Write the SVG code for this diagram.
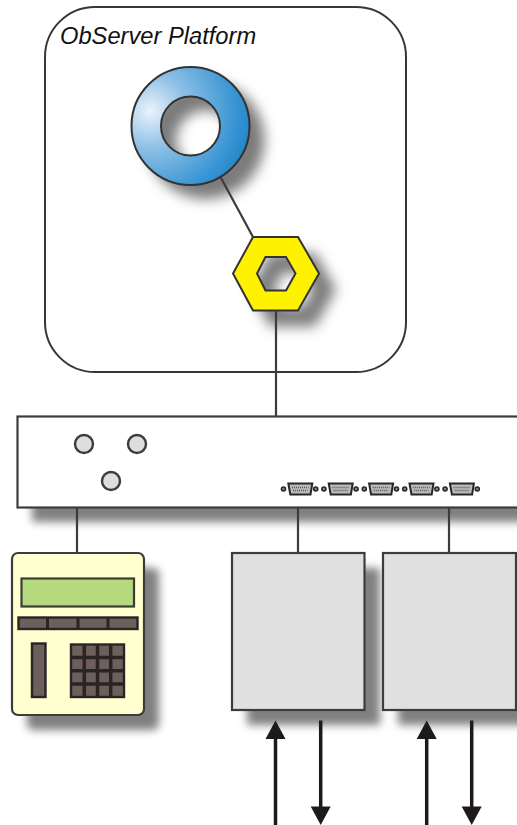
<svg xmlns="http://www.w3.org/2000/svg" width="517" height="825" viewBox="0 0 517 825">
<style>
.sh{fill:#808080;filter:url(#blur)}
.shs{fill:#7a7a7a;filter:url(#blurSoft)}
.edge{stroke:#3f3b3b;stroke-width:2.2;fill:none}
.knob{fill:#dedede;stroke:#3f3b3b;stroke-width:2.4}
.dk{fill:#6d5f5c;stroke:#2a2424;stroke-width:2.4}
.arw{stroke:#1e1a1a;stroke-width:3.5;fill:none}
.hd{fill:#1e1a1a}
.lbl{font-family:"Liberation Sans",Arial,sans-serif;font-style:italic;font-size:23.7px;fill:#111}
</style>
<defs>
<filter id="blur" x="-30%" y="-30%" width="160%" height="160%"><feGaussianBlur stdDeviation="4.500"/></filter>
<filter id="blurSoft" x="-40%" y="-40%" width="180%" height="180%"><feGaussianBlur stdDeviation="6.500"/></filter>
<radialGradient id="ringFill" gradientUnits="userSpaceOnUse" cx="150" cy="111" r="105">
<stop offset="0" stop-color="#eaf3fb"/><stop offset="0.35" stop-color="#8fc0e6"/><stop offset="0.8" stop-color="#3a96d4"/><stop offset="1" stop-color="#2084c8"/>
</radialGradient>
<g id="dsub">
<circle cx="2.500" cy="0" r="2" fill="#888" stroke="#2a2626" stroke-width="1.600"/>
<path d="M7.300 -5.500H31.300L29.500 5.500H9.300Z" fill="#bbb" stroke="#2a2626" stroke-width="2"/>
<path d="M11 -1.500H27.500M12 1.500H26.500" stroke="#555" stroke-width="1.500" stroke-dasharray="1 1" fill="none"/>
<circle cx="34.700" cy="0" r="2" fill="#888" stroke="#2a2626" stroke-width="1.600"/>
</g>
</defs>
<rect width="517" height="825" fill="#fff"/>

<g id="platform">
<rect x="45" y="7" width="361" height="365" rx="50" ry="50" fill="#fff" stroke="#3a3636" stroke-width="2"/>
<text class="lbl" x="60" y="44">ObServer Platform</text>
</g>

<g id="ring">
<path class="shs" fill-rule="evenodd" transform="translate(15 14)" d="M131.500 126a59 59 0 1 0 118 0a59 59 0 1 0 -118 0ZM161 126a29.500 29.500 0 1 0 59 0a29.500 29.500 0 1 0 -59 0Z"/>
<path fill="url(#ringFill)" stroke="#333" stroke-width="2" fill-rule="evenodd" d="M131.500 126a59 59 0 1 0 118 0a59 59 0 1 0 -118 0ZM161 126a29.500 29.500 0 1 0 59 0a29.500 29.500 0 1 0 -59 0Z"/>
</g>

<g id="hexnut">
<path class="shs" fill-rule="evenodd" transform="translate(17 16)" d="M253 237H298L319 273.500L298 310.500H253L233 273.500ZM265.500 257L257 273.500L265.500 290.500H286L295.500 273.500L286 257Z"/>
<path fill="#fff200" stroke="#333" stroke-width="2" fill-rule="evenodd" d="M253 237H298L319 273.500L298 310.500H253L233 273.500ZM265.500 257L257 273.500L265.500 290.500H286L295.500 273.500L286 257Z"/>
</g>

<g id="mainbox">
<rect class="sh" x="32" y="431" width="510" height="91"/>
<rect x="17.500" y="416.500" width="520" height="91" fill="#fff" stroke="#3f3b3b" stroke-width="2.200"/>
<circle class="knob" cx="84" cy="444" r="9"/>
<circle class="knob" cx="137" cy="444" r="9"/>
<circle class="knob" cx="111" cy="481" r="9"/>
<use href="#dsub" x="281" y="489"/>
<use href="#dsub" x="321.400" y="489"/>
<use href="#dsub" x="361.800" y="489"/>
<use href="#dsub" x="402.200" y="489"/>
<use href="#dsub" x="442.600" y="489"/>
</g>

<g id="keypad">
<rect class="sh" x="27" y="568" width="132" height="162" rx="6"/>
<rect x="12" y="553" width="132" height="162" rx="6" fill="#ffffcf" stroke="#3f3b3b" stroke-width="2.200"/>
<rect x="21.500" y="578.500" width="112.500" height="28" fill="#b5d97f" stroke="#3f3b3b" stroke-width="2.200"/>
<rect class="dk" x="18.500" y="617.500" width="119" height="11.500"/>
<path d="M47.500 617V629M78 617V629M108 617V629" stroke="#2a2424" stroke-width="3" fill="none"/>
<rect class="dk" x="32" y="643.500" width="13.500" height="53.500"/>
<rect class="dk" x="71" y="644.500" width="53" height="52.500"/>
<path d="M84.300 644V697M97.500 644V697M110.700 644V697M71 657.600H124M71 670.800H124M71 684H124" stroke="#2a2424" stroke-width="3.500" fill="none"/>
</g>

<g id="unit1">
<rect class="sh" x="247" y="568" width="133" height="157"/>
<rect x="232" y="553" width="132.500" height="157" fill="#e0e0e0" stroke="#3f3b3b" stroke-width="2.200"/>
</g>
<g id="unit2">
<rect class="sh" x="398" y="568" width="133" height="157"/>
<rect x="383" y="553" width="133" height="157" fill="#e0e0e0" stroke="#3f3b3b" stroke-width="2.200"/>
</g>

<g id="connectors">
<path class="edge" d="M220.500 177L253 237M276 311V416M77 507V553M298 507V553M449 507V553"/>
</g>

<g id="arrows">
<path class="arw" d="M275.500 738V825M320.700 720.500V808M426.700 738V825M471.700 720.500V808"/>
<path class="hd" d="M275.500 720.500L285.500 739H265.500ZM426.700 720.500L436.700 739H416.700ZM320.700 825L310.700 806.500H330.700ZM471.700 825L461.700 806.500H481.700Z"/>
</g>
</svg>
